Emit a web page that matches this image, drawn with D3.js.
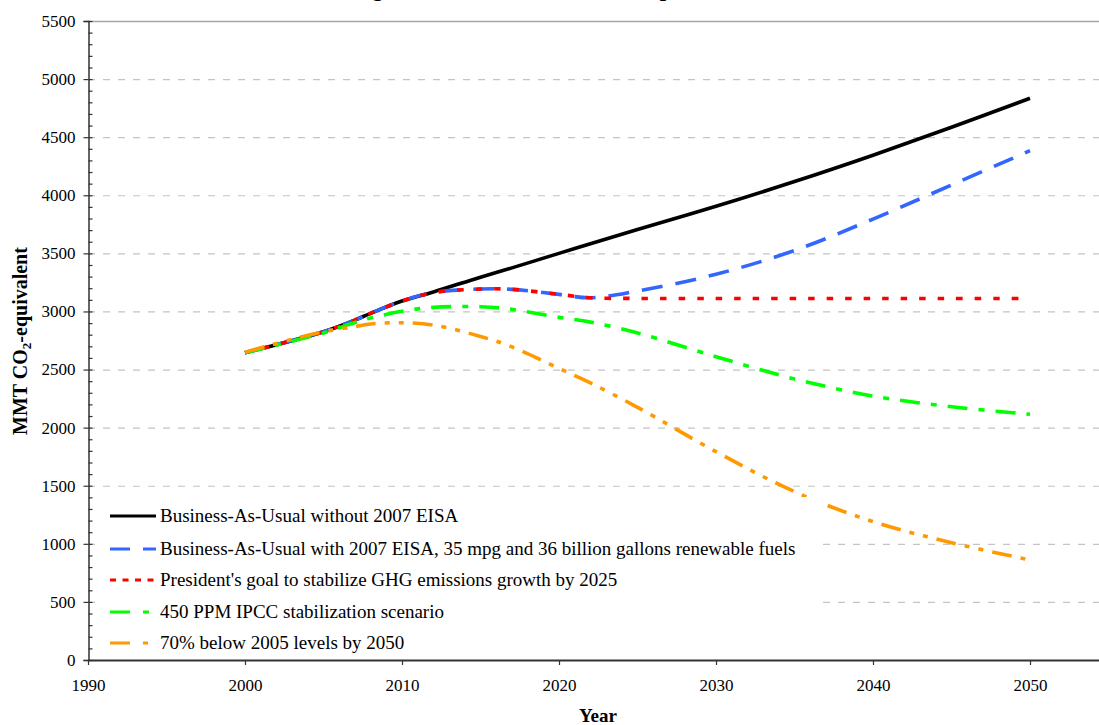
<!DOCTYPE html>
<html><head><meta charset="utf-8">
<script src="https://cdn.jsdelivr.net/npm/d3@7"></script>
<style>
body{margin:0;background:#fff}
svg{display:block}
text{font-family:"Liberation Serif","Times New Roman",serif;fill:#000}
</style>
</head><body>
<svg id="c" width="1099" height="725"></svg>
<script>
// ---- data ----
const titleText = "Long-Term GHG Emissions Comparison";
const yAxisTitle = "MMT CO";
const xAxisTitle = "Year";
const xTicks = [1990, 2000, 2010, 2020, 2030, 2040, 2050];
const yTicks = [0, 500, 1000, 1500, 2000, 2500, 3000, 3500, 4000, 4500, 5000, 5500];
const years = [2000, 2005, 2007, 2008, 2010, 2012, 2015, 2017, 2020, 2022, 2025, 2030, 2035, 2040, 2045, 2050];
const bauWithoutEisa = [2645, 2826, 2926, 2984, 3090, 3168, 3295, 3375, 3500, 3583, 3705, 3905, 4118, 4345, 4585, 4835];
const bauWithEisa    = [2645, 2826, 2926, 2984, 3090, 3162, 3193, 3190, 3147, 3118, 3176, 3320, 3525, 3795, 4089, 4384];
const presidentGoal  = [2645, 2826, 2926, 2984, 3090, 3162, 3193, 3190, 3147, 3118, 3112, 3112, 3112, 3112, 3112, 3112];
const ppm450         = [2645, 2815, 2905, 2944, 3001, 3035, 3041, 3018, 2949, 2908, 2815, 2611, 2419, 2272, 2180, 2115];
const below70        = [2650, 2826, 2869, 2892, 2903, 2883, 2785, 2695, 2510, 2385, 2175, 1793, 1449, 1191, 1010, 861];
const seriesNames = [
  "Business-As-Usual without 2007 EISA",
  "Business-As-Usual with 2007 EISA, 35 mpg and 36 billion gallons renewable fuels",
  "President's goal to stabilize GHG emissions growth by 2025",
  "450 PPM IPCC stabilization scenario",
  "70% below 2005 levels by 2050"
];
const seriesValues = [bauWithoutEisa, bauWithEisa, presidentGoal, ppm450, below70];

// ---- styles ----
const colors = ["#000000", "#3366ff", "#ff0000", "#00ff00", "#ff9900"];
const dashes = [null, "21,13", "6.5,12", "20,11,6,11", "20,9,5,9,5,9"];
const legendDashes = [null, "20,13,20", "6,6.5", "20,13,6", "20,13,5"];

const svg = d3.select("#c");
const x = d3.scaleLinear().domain([1990, 2055]).range([88, 88 + 65 * 15.7]);
const y = d3.scaleLinear().domain([0, 5500]).range([660, 21]);

// gridlines
svg.append("g").selectAll("line").data(yTicks.filter(v => v > 0)).join("line")
  .attr("x1", x(1990)).attr("x2", 1099)
  .attr("y1", d => y(d) + 0.5).attr("y2", d => y(d) + 0.5)
  .attr("stroke", d => d === 5500 ? "#a6a6a6" : "#c4c4c4")
  .attr("stroke-width", d => d === 5500 ? 1.5 : 1.2)
  .attr("stroke-dasharray", d => d === 5500 ? null : "7,8");

// title (mostly above the visible area, as in the reference)
const title = svg.append("text").attr("font-size", 27).attr("font-weight", "bold")
  .attr("y", -4).text(titleText);

// lines
const line = d3.line().x(d => x(d[0])).y(d => y(d[1])).curve(d3.curveCatmullRom.alpha(0.5));
const gLines = svg.append("g");
seriesValues.forEach((vals, i) => {
  gLines.append("path")
    .datum(years.map((yr, j) => [yr, vals[j]]))
    .attr("d", line)
    .attr("fill", "none")
    .attr("stroke", colors[i])
    .attr("stroke-width", 3.6)
    .attr("stroke-dasharray", dashes[i]);
});

// axes
const axisColor = "#333";
const yAxis = svg.append("g").attr("transform", "translate(88.5,0)")
  .call(d3.axisLeft(y).tickValues(yTicks).tickSize(5).tickFormat(d3.format("d")));
yAxis.select(".domain").attr("stroke", axisColor).attr("stroke-width", 1.5);
yAxis.selectAll(".tick line").attr("stroke", axisColor).attr("stroke-width", 1.2);
yAxis.selectAll(".tick text").attr("font-size", 17).attr("font-family", "Liberation Serif").attr("x", -13);

const minor = d3.range(0, 5501, 100);
svg.append("g").attr("transform", "translate(88.5,0)")
  .call(d3.axisRight(y).tickValues(minor).tickSize(4).tickFormat(""))
  .call(g => g.select(".domain").remove())
  .selectAll(".tick line").attr("stroke", axisColor).attr("stroke-width", 1.2);

const xAxis = svg.append("g").attr("transform", "translate(0,660)")
  .call(d3.axisBottom(x).tickValues(xTicks).tickSize(5).tickFormat(d3.format("d")).tickSizeOuter(0));
xAxis.select(".domain").attr("stroke", axisColor).attr("stroke-width", 1.8);
xAxis.selectAll(".tick line").attr("stroke", axisColor).attr("stroke-width", 1.2);
xAxis.selectAll(".tick text").attr("font-size", 17).attr("font-family", "Liberation Serif").attr("y", 19);

// axis titles
svg.append("text").attr("x", 598).attr("y", 722).attr("text-anchor", "middle")
  .attr("font-size", 19).attr("font-weight", "bold").text(xAxisTitle);
const yt = svg.append("text").attr("transform", "translate(27,341) rotate(-90)")
  .attr("text-anchor", "middle").attr("font-size", 20).attr("font-weight", "bold");
yt.append("tspan").text(yAxisTitle);
yt.append("tspan").attr("font-size", 13).attr("dy", 4).text("2");
yt.append("tspan").attr("dy", -4).text("-equivalent");

// legend
const lg = svg.append("g");
lg.append("rect").attr("x", 96).attr("y", 497).attr("width", 726).attr("height", 156).attr("fill", "#fff");
const legY = [516, 549, 580, 612, 643];
seriesNames.forEach((name, i) => {
  lg.append("line").attr("x1", 110).attr("x2", 156).attr("y1", legY[i]).attr("y2", legY[i])
    .attr("stroke", colors[i]).attr("stroke-width", 3.2).attr("stroke-dasharray", legendDashes[i]);
  lg.append("text").attr("x", 160).attr("y", legY[i] + 6).attr("font-size", 19).text(name);
});

// place title so its descenders fall where the reference shows them
try {
  const node = title.node();
  const gi = titleText.indexOf("g"), pi = titleText.indexOf("p");
  const gx = node.getStartPositionOfChar(gi).x, px = node.getStartPositionOfChar(pi).x;
  const fs = 27 * 288 / (px - gx);
  title.attr("font-size", fs);
  const gx2 = node.getStartPositionOfChar(gi).x;
  title.attr("x", 372 - gx2);
} catch (e) { title.attr("x", 260); }
</script>
</body></html>
